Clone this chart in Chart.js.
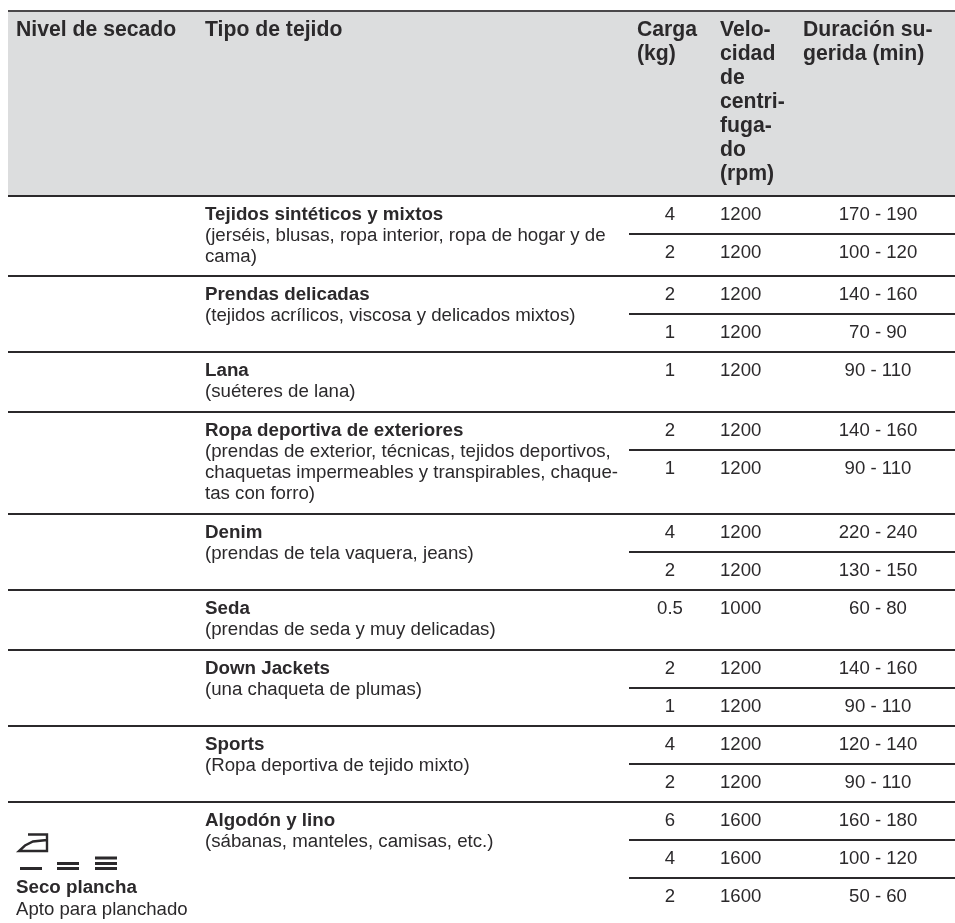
<!DOCTYPE html>
<html lang="es">
<head>
<meta charset="utf-8">
<title>Tabla de secado</title>
<script src="https://cdn.jsdelivr.net/npm/chart.js@4/dist/chart.umd.min.js"></script>
<style>
  html, body { margin: 0; padding: 0; background: #fff; }
  canvas { display: block; }
</style>
</head>
<body>
<canvas id="tabla" width="955" height="923"></canvas>
<script>
// Datos de la tabla
const headerNivel = ['Nivel de secado'];
const headerTipo = ['Tipo de tejido'];
const headerCarga = ['Carga', '(kg)'];
const headerVelocidad = ['Velo-', 'cidad', 'de', 'centri-', 'fuga-', 'do', '(rpm)'];
const headerDuracion = ['Duración su-', 'gerida (min)'];

const fabricNames = ['Tejidos sintéticos y mixtos', 'Prendas delicadas', 'Lana', 'Ropa deportiva de exteriores',
  'Denim', 'Seda', 'Down Jackets', 'Sports', 'Algodón y lino'];
const fabricNotes = [
  ['(jerséis, blusas, ropa interior, ropa de hogar y de', 'cama)'],
  ['(tejidos acrílicos, viscosa y delicados mixtos)'],
  ['(suéteres de lana)'],
  ['(prendas de exterior, técnicas, tejidos deportivos,', 'chaquetas impermeables y transpirables, chaque-', 'tas con forro)'],
  ['(prendas de tela vaquera, jeans)'],
  ['(prendas de seda y muy delicadas)'],
  ['(una chaqueta de plumas)'],
  ['(Ropa deportiva de tejido mixto)'],
  ['(sábanas, manteles, camisas, etc.)']
];

const loads = ['4', '2', '2', '1', '1', '2', '1', '4', '2', '0.5', '2', '1', '4', '2', '6', '4', '2'];
const speeds = ['1200', '1200', '1200', '1200', '1200', '1200', '1200', '1200', '1200', '1000', '1200', '1200', '1200', '1200', '1600', '1600', '1600'];
const durations = ['170 - 190', '100 - 120', '140 - 160', '70 - 90', '90 - 110', '140 - 160', '90 - 110', '220 - 240',
  '130 - 150', '60 - 80', '140 - 160', '90 - 110', '120 - 140', '90 - 110', '160 - 180', '100 - 120', '50 - 60'];

const dryLevelName = ['Seco plancha'];
const dryLevelNote = ['Apto para planchado'];

// Geometria
const rowTops = [196, 234, 276, 314, 352, 412, 450, 514, 552, 590, 650, 688, 726, 764, 802, 840, 878];
const groupTops = [196, 276, 352, 412, 514, 590, 650, 726, 802];
const fullRules = [196, 276, 352, 412, 514, 590, 650, 726, 802];
const shortRules = [234, 314, 450, 552, 688, 764, 840, 878];
const tableLeft = 8, tableRight = 955, shortLeft = 629;
const headerTop = 11, headerBottom = 196;
const colNivel = 16, colTipo = 205, colCarga = 637, colVelocidad = 720, colDuracion = 803;
const centerCarga = 670, centerDuracion = 878;

const INK = '#2b292b';
const RULE = '#2b292b';
const HEADER_FONT = 'bold 21.2px "Liberation Sans", Arial, sans-serif';
const NAME_FONT = 'bold 18.75px "Liberation Sans", Arial, sans-serif';
const NOTE_FONT = '18.68px "Liberation Sans", Arial, sans-serif';
const BODY_FONT = '18.6px "Liberation Sans", Arial, sans-serif';

// Cada bloque de texto es un dataset sin puntos visibles; el plugin escribe en la posicion del punto
function textSet(lines, xValue, firstY, step, font, align) {
  return {
    type: 'scatter',
    data: lines.map((t, i) => ({ x: xValue, y: firstY + i * step })),
    texts: lines,
    font: font,
    textAlign: align || 'left',
    pointRadius: 0,
    showLine: false
  };
}

function ruleSet(xFrom, xTo, y, width, color) {
  return {
    type: 'line',
    data: [{ x: xFrom, y: y }, { x: xTo, y: y }],
    borderColor: color || RULE,
    borderWidth: width || 2,
    pointRadius: 0,
    tension: 0
  };
}

const datasets = [];

// Banda gris de la cabecera, por debajo de las lineas
datasets.push({
  type: 'line',
  order: 1,
  data: [{ x: tableLeft, y: headerTop }, { x: tableRight, y: headerTop }],
  borderColor: '#4a484a',
  borderWidth: 2,
  backgroundColor: '#dcddde',
  fill: { value: headerBottom },
  pointRadius: 0
});
fullRules.forEach(y => datasets.push(ruleSet(tableLeft, tableRight, y, 2)));
shortRules.forEach(y => datasets.push(ruleSet(shortLeft, tableRight, y, 2)));

// Cabecera
datasets.push(textSet(headerNivel, colNivel, 36, 24, HEADER_FONT));
datasets.push(textSet(headerTipo, colTipo, 36, 24, HEADER_FONT));
datasets.push(textSet(headerCarga, colCarga, 36, 24, HEADER_FONT));
datasets.push(textSet(headerVelocidad, colVelocidad, 36, 24, HEADER_FONT));
datasets.push(textSet(headerDuracion, colDuracion, 36, 24, HEADER_FONT));

// Tipos de tejido
fabricNames.forEach((name, i) => {
  datasets.push(textSet([name], colTipo, groupTops[i] + 24, 21, NAME_FONT));
  datasets.push(textSet(fabricNotes[i], colTipo, groupTops[i] + 45, 21, NOTE_FONT));
});

// Carga, velocidad y duracion por fila
rowTops.forEach((top, i) => {
  datasets.push(textSet([loads[i]], centerCarga, top + 24, 0, BODY_FONT, 'center'));
  datasets.push(textSet([speeds[i]], colVelocidad, top + 24, 0, BODY_FONT));
  datasets.push(textSet([durations[i]], centerDuracion, top + 24, 0, BODY_FONT, 'center'));
});

// Nivel de secado: plancha y barras
datasets.push(textSet(dryLevelName, colNivel, 893, 0, NAME_FONT));
datasets.push(textSet(dryLevelNote, colNivel, 915, 0, BODY_FONT));
datasets.push({
  type: 'line',
  data: [{ x: 28, y: 834.5 }, { x: 47, y: 834.5 }, { x: 47, y: 851 }, { x: 19, y: 851 },
    { x: 25, y: 845.5 }, { x: 33, y: 841.5 }, { x: 47, y: 840 }],
  borderColor: RULE,
  borderWidth: 2.4,
  pointRadius: 0
});
[[20, 42, 868.5], [57, 79, 863.5], [57, 79, 868.5], [95, 117, 858], [95, 117, 863.5], [95, 117, 868.5]].forEach(b => {
  datasets.push(ruleSet(b[0], b[1], b[2], 3));
});

const cellLabels = {
  id: 'cellLabels',
  afterDatasetsDraw(chart) {
    const ctx = chart.ctx;
    ctx.save();
    ctx.fillStyle = INK;
    ctx.textBaseline = 'alphabetic';
    chart.data.datasets.forEach((ds, d) => {
      if (!ds.texts) return;
      ctx.font = ds.font;
      ctx.textAlign = ds.textAlign;
      chart.getDatasetMeta(d).data.forEach((pt, i) => {
        ctx.fillText(ds.texts[i], pt.x, pt.y);
      });
    });
    ctx.restore();
  }
};

new Chart(document.getElementById('tabla').getContext('2d'), {
  type: 'scatter',
  data: { datasets: datasets },
  options: {
    responsive: false,
    animation: false,
    events: [],
    layout: { padding: 0 },
    plugins: {
      legend: { display: false },
      tooltip: { enabled: false }
    },
    scales: {
      x: { type: 'linear', display: false, min: 0, max: 955 },
      y: { type: 'linear', display: false, min: 0, max: 923, reverse: true }
    }
  },
  plugins: [cellLabels]
});
</script>
</body>
</html>
